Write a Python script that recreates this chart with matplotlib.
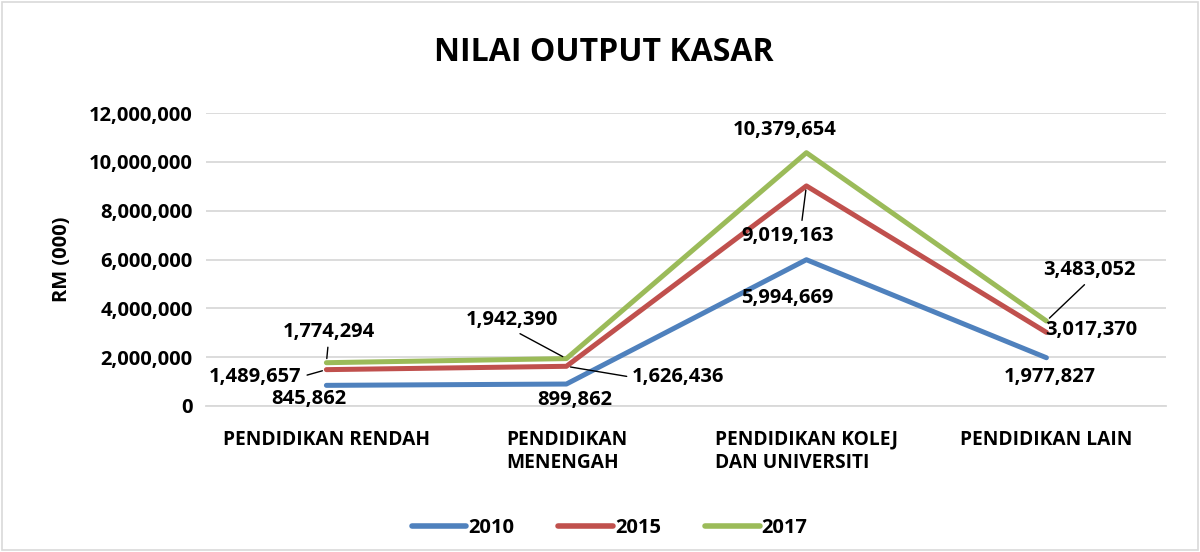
import matplotlib.pyplot as plt
from matplotlib.patches import Rectangle
from matplotlib.ticker import FuncFormatter

plt.rcParams['font.family'] = ['Open Sans', 'DejaVu Sans']
plt.rcParams['font.weight'] = 'bold'

categories = ["PENDIDIKAN RENDAH", "PENDIDIKAN\nMENENGAH",
              "PENDIDIKAN KOLEJ\nDAN UNIVERSITI", "PENDIDIKAN LAIN"]
years = ["2010", "2015", "2017"]
v2010 = [845862, 899862, 5994669, 1977827]
v2015 = [1489657, 1626436, 9019163, 3017370]
v2017 = [1774294, 1942390, 10379654, 3483052]
colors = ["#4F81BD", "#C0504D", "#9BBB59"]

# label offsets in pixels from each point, plus leader line anchor (None = no line)
offsets = [
    [((-18, -14), None), ((8, -16), None), ((-19, -38), None), ((3, -19), None)],
    [((-71, -7), (1, 0.5)), ((112, -11), (0, 0.5)), ((-19, -50), (0.65, 1)), ((45, 2), None)],
    [((2, 31), (0.5, 0)), ((-54, 39), (0.5, 0)), ((-22, 23), None), ((43, 51), (0.5, 0))],
]

fig = plt.figure(figsize=(12, 5.52), dpi=100)
ax = fig.add_axes([0.172, 0.2645, 0.8, 0.5305])
x = list(range(len(categories)))
series = [v2010, v2015, v2017]
for vals, yr, c in zip(series, years, colors):
    ax.plot(x, vals, color=c, lw=3.6, label=yr, solid_capstyle='round')

for s, vals in enumerate(series):
    for i, v in enumerate(vals):
        (dx, dy), rp = offsets[s][i]
        kw = {}
        if rp is not None:
            kw['arrowprops'] = dict(arrowstyle='-', color='black', lw=1,
                                    relpos=rp, shrinkA=2, shrinkB=3)
        ax.annotate(f"{v:,}", (i, v), xytext=(dx, dy), textcoords='offset pixels',
                    ha='center', va='center', fontsize=14.5, fontweight='bold', **kw)

ax.set_xlim(-0.5, 3.5)
ax.set_ylim(0, 12000000)
ax.set_yticks(range(0, 12000001, 2000000))
ax.yaxis.set_major_formatter(FuncFormatter(lambda v, p: f"{int(v):,}"))
ax.set_xticks(x)
ax.set_xticklabels(categories, multialignment='left')
ax.tick_params(axis='both', length=0, labelsize=14.5)
ax.tick_params(axis='x', pad=17, labelsize=13.8)
ax.tick_params(axis='y', pad=10)
for t in ax.get_xticklabels() + ax.get_yticklabels():
    t.set_fontweight('bold')
ax.grid(axis='y', color='#D9D9D9', lw=1.3)
ax.set_axisbelow(True)
for sp in ['top', 'right', 'left']:
    ax.spines[sp].set_visible(False)
ax.spines['bottom'].set_color('#D9D9D9')
ax.spines['bottom'].set_linewidth(1.3)

ax.set_ylabel("RM (000)", fontsize=14.5, fontweight='bold', labelpad=12)
fig.text(0.503, 0.905, "NILAI OUTPUT KASAR", ha='center', va='center',
         fontsize=23, fontweight='bold')

leg = fig.legend(loc='center', bbox_to_anchor=(0.508, 0.043), ncol=3, frameon=False,
                 handlelength=2.7, columnspacing=2.2, handletextpad=0.1,
                 prop={'size': 14.5, 'weight': 'bold'})
for h in leg.get_lines():
    h.set_linewidth(4)

fig.patches.append(Rectangle((0.002, 0.003), 0.996, 0.994, transform=fig.transFigure,
                             fill=False, edgecolor='#D9D9D9', lw=1.2))

fig.savefig("out.png", dpi=100)
